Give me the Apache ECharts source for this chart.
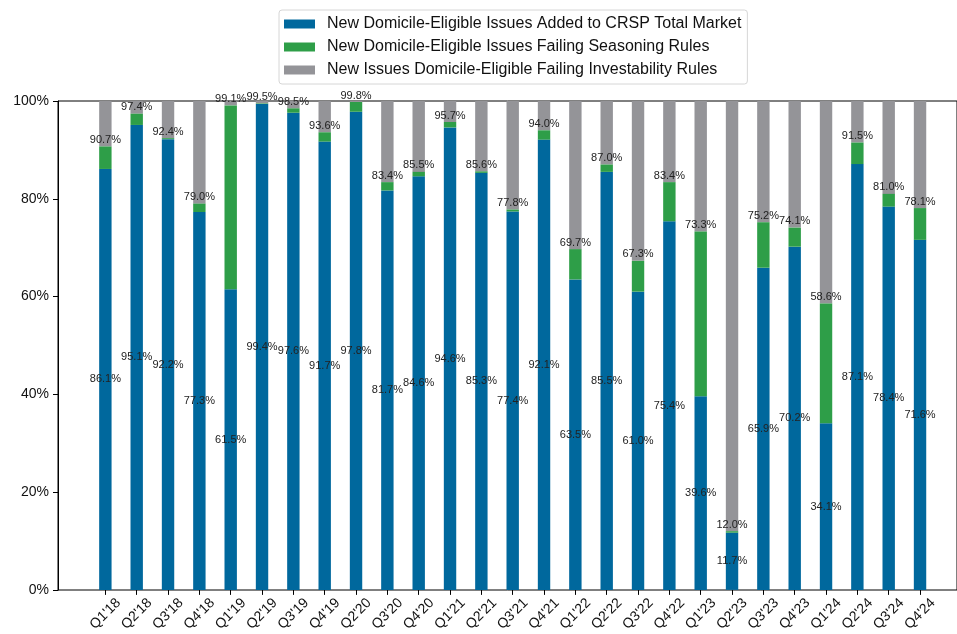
<!DOCTYPE html>
<html>
<head>
<meta charset="utf-8">
<script src="https://cdn.jsdelivr.net/npm/echarts@6/dist/echarts.min.js"></script>
<style>
  html, body { margin: 0; padding: 0; background: #fff; }
  #chart { width: 957px; height: 634px; }
</style>
</head>
<body>
<div id="chart"></div>
<script>
const quarters = ["Q1'18", "Q2'18", "Q3'18", "Q4'18", "Q1'19", "Q2'19", "Q3'19", "Q4'19", "Q2'20",
  "Q3'20", "Q4'20", "Q1'21", "Q2'21", "Q3'21", "Q4'21", "Q1'22", "Q2'22", "Q3'22", "Q4'22",
  "Q1'23", "Q2'23", "Q3'23", "Q4'23", "Q1'24", "Q2'24", "Q3'24", "Q4'24"];

// share added to the index (blue)
const added = [86.1, 95.1, 92.2, 77.3, 61.5, 99.4, 97.6, 91.7, 97.8, 81.7, 84.6, 94.6, 85.3, 77.4,
  92.1, 63.5, 85.5, 61.0, 75.4, 39.6, 11.7, 65.9, 70.2, 34.1, 87.1, 78.4, 71.6];
// share failing seasoning (green)
const seasoning = [4.6, 2.3, 0.2, 1.7, 37.6, 0.1, 0.9, 1.9, 2.0, 1.7, 0.9, 1.1, 0.3, 0.4,
  1.9, 6.2, 1.5, 6.3, 8.0, 33.7, 0.3, 9.3, 3.9, 24.5, 4.4, 2.6, 6.5];
// share failing investability (gray)
const investability = [9.3, 2.6, 7.6, 21.0, 0.9, 0.5, 1.5, 6.4, 0.2, 16.6, 14.5, 4.3, 14.4, 22.2,
  6.0, 30.3, 13.0, 32.7, 16.6, 26.7, 88.0, 24.8, 25.9, 41.4, 8.5, 19.0, 21.9];
// labels printed above the green segment (added + seasoning)
const totalLabels = [90.7, 97.4, 92.4, 79.0, 99.1, 99.5, 98.5, 93.6, 99.8, 83.4, 85.5, 95.7, 85.6, 77.8,
  94.0, 69.7, 87.0, 67.3, 83.4, 73.3, 12.0, 75.2, 74.1, 58.6, 91.5, 81.0, 78.1];

const seriesNames = [
  "New Domicile-Eligible Issues Added to CRSP Total Market",
  "New Domicile-Eligible Issues Failing Seasoning Rules",
  "New Issues Domicile-Eligible Failing Investability Rules"
];
const colors = ["#00689d", "#2e9e48", "#949498"];

const chart = echarts.init(document.getElementById("chart"));
const labelFont = { fontFamily: "Liberation Sans, Arial, sans-serif", fontSize: 11, color: "#222" };

chart.setOption({
  backgroundColor: "#fff",
  animation: false,
  textStyle: { fontFamily: "Liberation Sans, Arial, sans-serif" },
  legend: {
    orient: "vertical",
    left: 279,
    top: 10,
    padding: [6, 6, 6, 5],
    itemWidth: 31,
    itemHeight: 9,
    itemGap: 7,
    borderColor: "#d6d6d6",
    borderWidth: 1,
    borderRadius: 3,
    icon: "rect",
    selectedMode: false,
    textStyle: { fontSize: 16, color: "#111", lineHeight: 16, padding: [0, 0, 0, 7] },
    data: seriesNames
  },
  grid: [
    // bars: one band per quarter, 31.33px wide
    { left: 89.7, top: 101, width: 846, height: 489 },
    // frame (matplotlib style axes box, extends past the right edge)
    { left: 58, top: 101, width: 910, height: 489, show: true, borderColor: "#000", borderWidth: 1 }
  ],
  xAxis: [
    {
      type: "category",
      gridIndex: 0,
      data: quarters,
      axisLine: { show: false },
      axisTick: { show: true, alignWithLabel: true, length: 5, lineStyle: { color: "#000" } },
      axisLabel: {
        interval: 0,
        rotate: 45,
        align: "center",
        verticalAlign: "middle",
        margin: 24,
        fontSize: 14,
        color: "#111"
      }
    },
    { type: "value", gridIndex: 1, show: false, min: 0, max: 1 }
  ],
  yAxis: [
    { type: "value", gridIndex: 0, min: 0, max: 100, show: false },
    {
      type: "value",
      gridIndex: 1,
      min: 0,
      max: 100,
      interval: 20,
      splitLine: { show: false },
      axisLine: { show: true, lineStyle: { color: "#000", width: 1 } },
      axisTick: { show: true, length: 5, lineStyle: { color: "#000" } },
      axisLabel: { formatter: "{value}%", fontSize: 14, color: "#111", margin: 9 }
    }
  ],
  series: [
    {
      name: seriesNames[0],
      type: "bar",
      stack: "all",
      barWidth: 12.4,
      itemStyle: { color: colors[0] },
      label: {
        show: true, position: "inside", ...labelFont,
        formatter: (p) => added[p.dataIndex].toFixed(1) + "%"
      },
      data: added
    },
    {
      name: seriesNames[1],
      type: "bar",
      stack: "all",
      barWidth: 12.4,
      itemStyle: { color: colors[1] },
      label: {
        show: true, position: "top", distance: 1, ...labelFont,
        formatter: (p) => totalLabels[p.dataIndex].toFixed(1) + "%"
      },
      data: seasoning
    },
    {
      name: seriesNames[2],
      type: "bar",
      stack: "all",
      barWidth: 12.4,
      itemStyle: { color: colors[2] },
      z: 1,
      data: investability
    }
  ]
});
</script>
</body>
</html>
